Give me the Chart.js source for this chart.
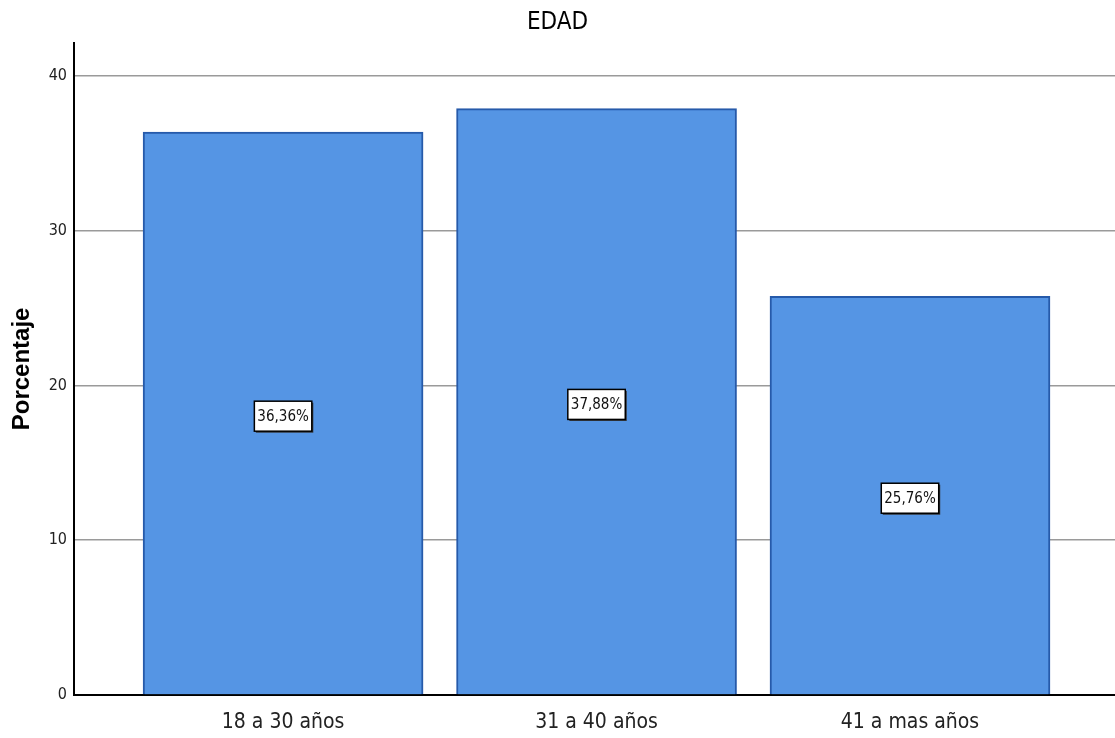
<!DOCTYPE html>
<html>
<head>
<meta charset="utf-8">
<script src="https://cdn.jsdelivr.net/npm/chart.js@4"></script>
<style>
html,body{margin:0;padding:0;background:#fff;}
#wrap{width:1115px;height:738px;}
</style>
</head>
<body>
<div id="wrap"><canvas id="c" width="1115" height="738"></canvas></div>
<script>
const categories = ['18 a 30 años', '31 a 40 años', '41 a mas años'];
const percentages = [36.36, 37.88, 25.76];
const yTicks = [0, 10, 20, 30, 40];
const chartTitle = 'EDAD';
const yTitle = 'Porcentaje';

const NARROW = '"DejaVu Sans Condensed", "Liberation Sans Narrow", sans-serif';
const SANS = '"Liberation Sans", Arial, sans-serif';

const labelPlugin = {
  id: 'barLabels',
  afterDatasetsDraw(chart) {
    const ctx = chart.ctx;
    const meta = chart.getDatasetMeta(0);
    ctx.save();
    ctx.font = '15px ' + NARROW;
    ctx.textAlign = 'center';
    ctx.textBaseline = 'middle';
    meta.data.forEach((bar, i) => {
      const txt = percentages[i].toFixed(2).replace('.', ',') + '%';
      const cx = bar.x;
      const cy = (bar.y + bar.base) / 2 + 3;
      const w = ctx.measureText(txt).width + 6;
      const h = 30;
      ctx.fillStyle = '#333';
      ctx.fillRect(cx - w / 2 + 1.5, cy - h / 2 + 1.5, w, h);
      ctx.fillStyle = '#fff';
      ctx.fillRect(cx - w / 2, cy - h / 2, w, h);
      ctx.strokeStyle = '#000';
      ctx.lineWidth = 1.5;
      ctx.strokeRect(cx - w / 2, cy - h / 2, w, h);
      ctx.fillStyle = '#111';
      ctx.fillText(txt, cx, cy + 1);
    });
    ctx.restore();
  }
};

new Chart(document.getElementById('c'), {
  type: 'bar',
  data: {
    datasets: [{
      data: categories.map((c, i) => ({ x: i, y: percentages[i] })),
      backgroundColor: 'rgb(85,149,228)',
      borderColor: 'rgb(38,90,170)',
      borderWidth: 2,
      barThickness: 280
    }]
  },
  options: {
    responsive: false,
    animation: false,
    layout: { padding: { left: 0, right: 0, top: 0, bottom: 0 } },
    plugins: {
      legend: { display: false },
      tooltip: { enabled: false },
      title: {
        display: true,
        text: chartTitle,
        color: '#000',
        font: { family: NARROW, size: 24, weight: 'normal' },
        padding: { top: 8, bottom: 6 }
      }
    },
    scales: {
      x: {
        type: 'linear',
        offset: false,
        min: -0.667,
        max: 2.654,
        afterBuildTicks: (s) => { s.ticks = categories.map((c, i) => ({ value: i })); },
        afterFit: (s) => { s.height = 43; },
        ticks: {
          callback: (v) => categories[v],
          color: '#222',
          font: { family: NARROW, size: 21 },
          padding: 15,
          autoSkip: false,
          maxRotation: 0
        },
        grid: { display: false, drawTicks: false, offset: false },
        border: { display: true, color: '#000', width: 2 }
      },
      y: {
        min: 0,
        max: 42.13,
        afterBuildTicks: (s) => { s.ticks = yTicks.map(v => ({ value: v })); },
        afterFit: (s) => { s.width = 74; },
        ticks: {
          color: '#222',
          font: { family: NARROW, size: 16 },
          padding: 7
        },
        grid: { color: '#9a9a9a', lineWidth: 1.5, drawTicks: false },
        border: { display: true, color: '#000', width: 2 },
        title: {
          display: true,
          text: yTitle,
          color: '#000',
          font: { family: SANS, size: 24, weight: 'bold' },
          padding: { top: 8, bottom: 0 }
        }
      }
    }
  },
  plugins: [labelPlugin]
});
</script>
</body>
</html>
